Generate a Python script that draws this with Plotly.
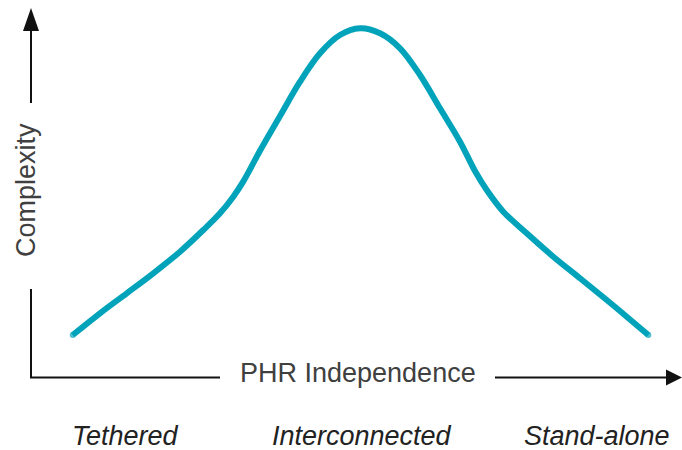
import plotly.graph_objects as go

# ---- data (abstract units: independence 0-100, complexity 0-100) ----
independence = [6.43, 10.63, 14.75, 18.84, 22.96, 26.55, 29.12, 31.17, 32.67, 35.28,
                38.37, 41.45, 44.53, 47.61, 50.69, 53.78, 56.86, 59.94, 63.02, 66.10,
                68.41, 70.22, 72.77, 76.38, 80.48, 84.59, 88.71, 91.79, 95.12]
complexity = [11.62, 17.49, 22.89, 28.30, 34.14, 40.00, 44.51, 49.00, 53.00, 61.40,
              70.80, 80.08, 87.76, 92.70, 94.51, 93.16, 89.11, 81.89, 72.89, 63.86,
              55.95, 50.81, 44.95, 39.11, 32.78, 26.95, 21.08, 16.57, 11.62]
category_labels = ["Tethered", "Interconnected", "Stand-alone"]
x_title = "PHR Independence"
y_title = "Complexity"

W, H = 682, 450
TEAL = "#00A3B9"
AX = "#111111"
TXT = "#404040"
FONT = "Liberation Sans, Arial"


def px(x, y):
    return x / W, 1 - y / H


fig = go.Figure()
n = len(independence)
fig.add_trace(go.Scatter(
    x=independence, y=complexity, mode="lines+markers",
    line=dict(color=TEAL, width=6, shape="spline", smoothing=1.0),
    marker=dict(color=TEAL, size=[6] + [0] * (n - 2) + [6], line=dict(width=0)),
    hoverinfo="skip", showlegend=False,
))

shapes = []


def seg(x0, y0, x1, y1):
    a, b = px(x0, y0)
    c, d = px(x1, y1)
    shapes.append(dict(type="line", xref="paper", yref="paper", x0=a, y0=b, x1=c, y1=d,
                       line=dict(color=AX, width=2)))


def tri(pts):
    path = "M " + " L ".join(f"{px(x, y)[0]:.5f},{px(x, y)[1]:.5f}" for x, y in pts) + " Z"
    shapes.append(dict(type="path", xref="paper", yref="paper", path=path,
                       fillcolor=AX, line=dict(color=AX, width=0)))


# y axis
seg(31, 378, 31, 289)
seg(31, 103, 31, 28)
tri([(31, 8), (23, 31), (39, 31)])
# x axis
seg(30, 377.5, 220, 377.5)
seg(495, 377.5, 668, 377.5)
tri([(682, 377.5), (666, 369.5), (666, 385.5)])

ann = []
xa, ya = px(358, 373)
ann.append(dict(x=xa, y=ya, xref="paper", yref="paper", text=x_title, showarrow=False,
                font=dict(family=FONT, size=27, color=TXT),
                xanchor="center", yanchor="middle"))
xa, ya = px(26, 190)
ann.append(dict(x=xa, y=ya, xref="paper", yref="paper", text=y_title, showarrow=False,
                textangle=-90,
                font=dict(family=FONT, size=27, color=TXT),
                xanchor="center", yanchor="middle"))
for lab, cx in zip(category_labels, [125, 361.5, 597]):
    xa, ya = px(cx, 436)
    ann.append(dict(x=xa, y=ya, xref="paper", yref="paper", text=f"<i>{lab}</i>",
                    showarrow=False,
                    font=dict(family=FONT, size=27, color="#222222"),
                    xanchor="center", yanchor="middle"))

fig.update_layout(
    width=W, height=H, margin=dict(l=0, r=0, t=0, b=0),
    paper_bgcolor="white", plot_bgcolor="white",
    xaxis=dict(range=[-31 / 6.49, (W - 31) / 6.49], visible=False, fixedrange=True),
    yaxis=dict(range=[(378 - H) / 3.7, 378 / 3.7], visible=False, fixedrange=True),
    shapes=shapes, annotations=ann,
)
fig.write_html(
    "out.html",
    config={"displayModeBar": False},
    post_script="document.body.style.margin='0';document.body.style.overflow='hidden';",
)
